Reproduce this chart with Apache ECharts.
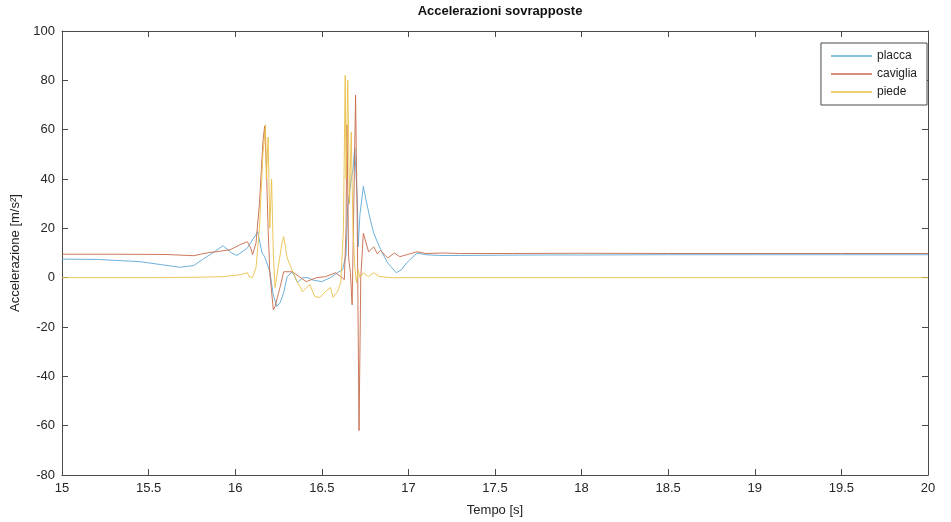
<!DOCTYPE html>
<html>
<head>
<meta charset="utf-8">
<script src="https://cdn.jsdelivr.net/npm/echarts@6/dist/echarts.min.js"></script>
<style>html,body{margin:0;padding:0;background:#fff;}#c{width:951px;height:522px;}</style>
</head>
<body>
<div id="c"></div>
<script>
const xTicks = [15, 15.5, 16, 16.5, 17, 17.5, 18, 18.5, 19, 19.5, 20];
const yTicks = [-80, -60, -40, -20, 0, 20, 40, 60, 80, 100];
const seriesNames = ['placca', 'caviglia', 'piede'];

const placcaT = [15.0, 15.2, 15.45, 15.57, 15.68, 15.76, 15.81, 15.87, 15.93, 15.98, 16.01, 16.07, 16.13, 16.14, 16.155, 16.17, 16.19, 16.2, 16.22, 16.24, 16.26, 16.28, 16.3, 16.33, 16.36, 16.39, 16.42, 16.45, 16.5, 16.55, 16.59, 16.62, 16.64, 16.65, 16.67, 16.68, 16.69, 16.705, 16.71, 16.72, 16.74, 16.755, 16.78, 16.8, 16.84, 16.88, 16.93, 16.96, 16.99, 17.05, 17.1, 17.18, 17.3, 17.5, 17.75, 18.0, 18.5, 19.0, 19.5, 20.0];
const placcaV = [7.5, 7.4, 6.5, 5.3, 4.2, 4.9, 7.3, 10, 13, 10, 9, 12, 18.6, 19.4, 10, 8.5, 4.5, 2.4, -7, -11.7, -10, -6, 0.4, 2.4, -2, 0, 0, -1, -1.6, 0, 2, 3.2, 9.3, 28.7, 40, 43.7, 52.6, 31.6, 12.5, 25.5, 37, 31.6, 23.5, 18, 11.3, 6, 2, 3.2, 6, 10, 9.3, 9, 9, 9.1, 9.2, 9.2, 9.3, 9.3, 9.3, 9.3];

const cavigliaT = [15.0, 15.3, 15.6, 15.76, 15.8, 15.85, 15.89, 15.97, 16.03, 16.07, 16.09, 16.1, 16.12, 16.14, 16.16, 16.17, 16.18, 16.19, 16.2, 16.22, 16.23, 16.26, 16.28, 16.33, 16.37, 16.41, 16.47, 16.52, 16.58, 16.61, 16.63, 16.64, 16.645, 16.655, 16.665, 16.675, 16.685, 16.695, 16.705, 16.715, 16.725, 16.74, 16.77, 16.8, 16.82, 16.84, 16.88, 16.9, 16.92, 16.95, 16.99, 17.05, 17.1, 17.2, 17.3, 17.6, 18.0, 18.5, 19.0, 19.5, 20.0];
const cavigliaV = [9.5, 9.5, 9.4, 8.9, 9.5, 10.2, 10.5, 11.3, 13.4, 14.6, 12, 9.3, 14, 30, 55, 61.5, 45, 20, 2, -13, -11.7, -3.6, 2.4, 2.4, 0.4, -1.6, 0, 0.4, 2, 0.4, -0.8, 20, 62, 8, 2, -11, 30, 74, 20, -62, 0, 18, 10.5, 12.5, 9.7, 11, 8, 9, 10, 8.5, 9.3, 10.5, 9.8, 10, 9.8, 9.8, 9.9, 9.8, 9.8, 9.8, 9.8];

const piedeT = [15.0, 15.5, 15.8, 15.93, 16.03, 16.07, 16.08, 16.1, 16.12, 16.14, 16.16, 16.175, 16.18, 16.19, 16.2, 16.21, 16.22, 16.23, 16.25, 16.27, 16.28, 16.3, 16.32, 16.36, 16.39, 16.43, 16.46, 16.49, 16.52, 16.55, 16.565, 16.59, 16.61, 16.625, 16.635, 16.64, 16.65, 16.66, 16.67, 16.68, 16.69, 16.7, 16.71, 16.72, 16.74, 16.77, 16.8, 16.83, 16.9, 17.0, 17.5, 18.0, 18.5, 19.0, 19.5, 20.0];
const piedeV = [0, 0, 0.2, 0.4, 1.2, 2, 0.5, 0, 4, 20, 50, 62, 40, 57, 20, 40, 10, -4, 5, 14, 16.6, 8, 4.5, -2, -5.7, -2.8, -7.7, -8, -5.7, -4, -8, -5.7, -2, 20, 82, 40, 80, 30, 59, 20, 5, -2, 3, 0, 2, 0.4, 2, 0.5, 0, 0, 0, 0, 0, 0, 0, 0];

const colors = ['#5ea8d6', '#c66a48', '#eabf48'];
function pairs(t, v) { return t.map((x, i) => [x, v[i]]); }

const FONT = 'Liberation Sans, Arial, Helvetica, sans-serif';
const chart = echarts.init(document.getElementById('c'), null, {renderer: 'canvas'});
const axisCommon = {
  axisLine: {show: true, onZero: false, lineStyle: {color: '#4a4a4a', width: 1}},
  axisTick: {show: true, inside: true, length: 6, lineStyle: {color: '#4a4a4a', width: 1}},
  splitLine: {show: false}
};
chart.setOption({
  animation: false,
  backgroundColor: '#fff',
  color: colors,
  title: {
    text: 'Accelerazioni sovrapposte',
    left: 495, top: 0, textAlign: 'center',
    textStyle: {fontFamily: FONT, fontSize: 13, fontWeight: 'bold', color: '#111'}
  },
  legend: {
    orient: 'vertical', right: 24, top: 43,
    data: seriesNames,
    itemWidth: 41, itemHeight: 1.5, itemGap: 6,
    padding: [7, 10, 7, 10],
    borderColor: '#4a4a4a', borderWidth: 1, borderRadius: 0,
    backgroundColor: '#fff',
    icon: 'rect',
    textStyle: {fontFamily: FONT, fontSize: 12, color: '#222', padding: [0, 0, 0, 0]}
  },
  grid: {left: 62, right: 23, top: 31, bottom: 47, containLabel: false},
  xAxis: [
    Object.assign({}, axisCommon, {
      type: 'value', min: 15, max: 20, interval: 0.5, position: 'bottom',
      name: 'Tempo [s]', nameLocation: 'middle', nameGap: 29,
      nameTextStyle: {fontFamily: FONT, fontSize: 13, color: '#222'},
      axisLabel: {fontFamily: FONT, fontSize: 13, color: '#262626', margin: 7,
        formatter: v => String(parseFloat(v.toFixed(1)))}
    }),
    Object.assign({}, axisCommon, {
      type: 'value', min: 15, max: 20, interval: 0.5, position: 'top',
      axisLabel: {show: false}
    })
  ],
  yAxis: [
    Object.assign({}, axisCommon, {
      type: 'value', min: -80, max: 100, interval: 20, position: 'left',
      name: 'Accelerazione [m/s²]', nameLocation: 'middle', nameGap: 36, nameRotate: 90,
      nameTextStyle: {fontFamily: FONT, fontSize: 13, color: '#222'},
      axisLabel: {fontFamily: FONT, fontSize: 13, color: '#262626', margin: 7}
    }),
    Object.assign({}, axisCommon, {
      type: 'value', min: -80, max: 100, interval: 20, position: 'right',
      axisLabel: {show: false}
    })
  ],
  series: [
    {name: seriesNames[0], type: 'line', data: pairs(placcaT, placcaV), symbol: 'none', lineStyle: {width: 0.9}, z: 3},
    {name: seriesNames[1], type: 'line', data: pairs(cavigliaT, cavigliaV), symbol: 'none', lineStyle: {width: 0.9}, z: 4},
    {name: seriesNames[2], type: 'line', data: pairs(piedeT, piedeV), symbol: 'none', lineStyle: {width: 0.9}, z: 5}
  ]
});
</script>
</body>
</html>
